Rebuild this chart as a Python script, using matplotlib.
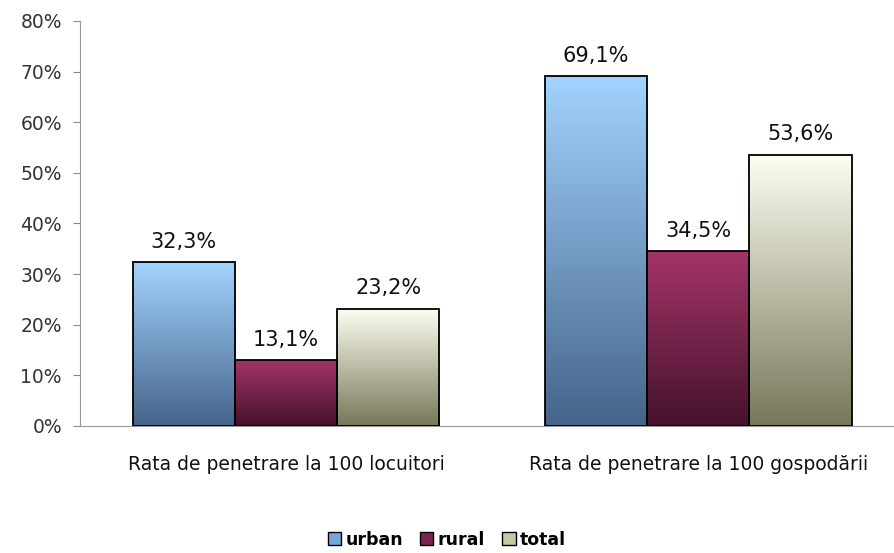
import numpy as np
import matplotlib
matplotlib.use("Agg")
import matplotlib.pyplot as plt
from matplotlib.colors import LinearSegmentedColormap
from matplotlib.patches import Patch

categories = ["Rata de penetrare la 100 locuitori", "Rata de penetrare la 100 gospodării"]
series_names = ["urban", "rural", "total"]
urban = [32.3, 69.1]
rural = [13.1, 34.5]
total = [23.2, 53.6]

# top colour, bottom colour for each series gradient
gradients = {
    "urban": ("#a3d3ff", "#45648a"),
    "rural": ("#a33468", "#45122c"),
    "total": ("#fffff2", "#77775a"),
}
legend_colors = {"urban": "#7aa6d6", "rural": "#7a2450", "total": "#c8c8a0"}

fig = plt.figure(figsize=(8.94, 5.53), dpi=100)
ax = fig.add_axes([0.0895, 0.2297, 0.9105, 0.7324])

x = np.arange(len(categories))
width = 0.248
values = [urban, rural, total]

for i, (name, vals) in enumerate(zip(series_names, values)):
    top, bottom = gradients[name]
    cmap = LinearSegmentedColormap.from_list(name, [bottom, top])
    offs = (i - 1) * width
    bars = ax.bar(x + offs, vals, width, facecolor="none", edgecolor="black",
                  linewidth=1.3, zorder=3)
    for bar, v in zip(bars, vals):
        bx, bw = bar.get_x(), bar.get_width()
        grad = np.linspace(0, 1, 256).reshape(-1, 1)
        img = ax.imshow(grad, cmap=cmap, origin="lower", aspect="auto",
                        extent=(bx, bx + bw, 0, v), zorder=2)
        img.set_clip_path(bar)
        ax.text(bx + bw / 2, v + 2.0, f"{v:.1f}%".replace(".", ","),
                ha="center", va="bottom", fontsize=15, color="#111111")

ax.set_xlim(-0.5, 1.475)
ax.set_ylim(0, 80)
ax.set_yticks(range(0, 81, 10))
ax.set_yticklabels([f"{t}%" for t in range(0, 81, 10)], fontsize=13.5, color="#333333")
ax.set_xticks(x)
ax.set_xticklabels(categories, fontsize=13.5, color="#111111")
ax.tick_params(axis="x", length=0, pad=21)
ax.tick_params(axis="y", length=5, color="#888888", pad=8)
for s in ("top", "right"):
    ax.spines[s].set_visible(False)
for s in ("left", "bottom"):
    ax.spines[s].set_color("#999999")

handles = [Patch(facecolor=legend_colors[n], edgecolor="black", label=n) for n in series_names]
leg = fig.legend(handles=handles, loc="center", bbox_to_anchor=(0.5, 0.024),
                 ncol=3, frameon=False, handlelength=0.75, handleheight=0.75,
                 handletextpad=0.25, columnspacing=1.0,
                 prop={"weight": "bold", "size": 12.5})

fig.savefig("out.png", dpi=100)
